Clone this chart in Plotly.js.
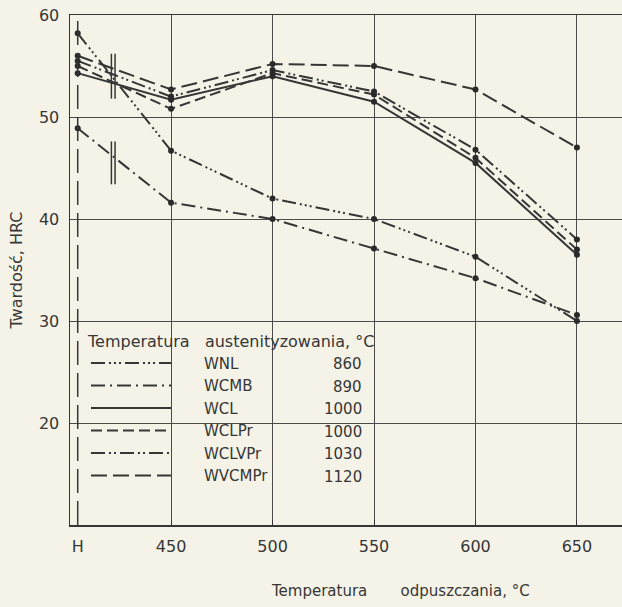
<!DOCTYPE html>
<html>
<head>
<meta charset="utf-8">
<script src="https://cdn.plot.ly/plotly-3.0.1.min.js"></script>
<style>
  html, body { margin: 0; padding: 0; background: #f5f3e8; }
  #chart { width: 622px; height: 607px; }
</style>
</head>
<body>
<div id="chart"></div>
<script>
// ---- data ----
const xVals = [404, 450, 500, 550, 600, 650];
const xTickText = ['H', '450', '500', '550', '600', '650'];
const gridX = [450, 500, 550, 600, 650];
const yTicks = [20, 30, 40, 50, 60];
const seriesNames = ['WNL', 'WCMB', 'WCL', 'WCLPr', 'WCLVPr', 'WVCMPr'];
const austTemps = ['860', '890', '1000', '1000', '1030', '1120'];
const wnl    = [58.2, 46.7, 42.0, 40.0, 36.3, 30.0];
const wcmb   = [48.9, 41.6, 40.0, 37.1, 34.2, 30.6];
const wcl    = [54.3, 51.7, 54.0, 51.5, 45.5, 36.5];
const wclpr  = [55.0, 50.8, 54.3, 52.2, 46.0, 37.0];
const wclvpr = [55.5, 52.0, 54.6, 52.5, 46.8, 38.0];
const wvcmpr = [56.0, 52.7, 55.2, 55.0, 52.7, 47.0];
const seriesValues = [wnl, wcmb, wcl, wclpr, wclvpr, wvcmpr];
// axis-break marks between H and 450
const breakX = [420.6, 422.4];
const breakLow = [51.8, 43.4];
const breakHigh = [56.2, 47.6];

// ---- styles ----
const ink = '#363636';
const bg = '#f5f3e8';
const dashes = [
  '14px,4px,2px,3px,2px,3px,2px,4px',
  '14px,5px,2px,5px',
  'solid',
  '11px,5px',
  '14px,4px,2px,3px,2px,4px',
  '16px,6px'
];
const FONT = 'DejaVu Sans, sans-serif';

const traces = [];
seriesNames.forEach((name, i) => {
  traces.push({
    x: xVals, y: seriesValues[i], name: name, type: 'scatter', mode: 'lines',
    line: { color: ink, width: 2, dash: dashes[i] },
    hoverinfo: 'x+y+name'
  });
});
seriesNames.forEach((name, i) => {
  traces.push({
    x: xVals, y: seriesValues[i], name: name, type: 'scatter', mode: 'markers',
    marker: { color: '#2a2a2a', size: 6 }, showlegend: false, hoverinfo: 'skip'
  });
});

const L = 70, T = 15, W = 552, H = 510;
const pxX = p => (p - L) / W;
const pxY = p => 1 - (p - T) / H;

const shapes = [
  // blank area behind the legend (hides grid there)
  { type: 'rect', xref: 'paper', yref: 'paper', x0: pxX(80), x1: pxX(406), y0: pxY(521), y1: pxY(328),
    fillcolor: bg, line: { width: 0 }, layer: 'between' },
  // dashed vertical line at H
  { type: 'line', xref: 'x', yref: 'paper', x0: xVals[0], x1: xVals[0], y0: 0, y1: 1,
    line: { color: ink, width: 1.5, dash: '24px,8px' }, layer: 'above' }
];
breakX.forEach(bx => {
  breakLow.forEach((lo, k) => {
    shapes.push({ type: 'line', xref: 'x', yref: 'y', x0: bx, x1: bx, y0: lo, y1: breakHigh[k],
      line: { color: ink, width: 1.5 }, layer: 'above' });
  });
});

const rowY0 = 364, rowGap = 22.5;
const annotations = austTemps.map((t, i) => ({
  xref: 'paper', yref: 'paper', x: pxX(364), y: pxY(rowY0 + i * rowGap),
  xanchor: 'right', yanchor: 'middle', text: t, showarrow: false,
  font: { family: FONT, size: 15, color: ink }
}));

const nb = '\u00a0';
const layout = {
  width: 622, height: 607,
  margin: { l: L, r: 0, t: T, b: 82 },
  paper_bgcolor: bg, plot_bgcolor: bg,
  font: { family: FONT, color: ink, size: 16 },
  showlegend: true,
  xaxis: {
    range: [400.2, 672.2], tickmode: 'array', tickvals: xVals, ticktext: xTickText,
    showgrid: false, zeroline: false, showline: true, linecolor: ink, linewidth: 1.5, mirror: true,
    ticks: '', ticklabelstandoff: 6, tickfont: { size: 16, color: ink },
    title: {
      text: '<span style="color:rgba(0,0,0,0)">.' + nb.repeat(22) + '</span>Temperatura' + nb.repeat(7) + 'odpuszczania, °C',
      font: { size: 15, color: ink }, standoff: 31
    }
  },
  xaxis2: {
    overlaying: 'x', anchor: 'y', range: [400.2, 672.2], tickmode: 'array', tickvals: gridX,
    showgrid: true, gridcolor: '#4a4a4a', gridwidth: 1, showticklabels: false,
    ticks: 'inside', ticklen: 5, tickcolor: ink, zeroline: false, side: 'bottom'
  },
  yaxis: {
    range: [10, 60], tickmode: 'array', tickvals: yTicks,
    showgrid: true, gridcolor: '#4a4a4a', gridwidth: 1, zeroline: false,
    showline: true, linecolor: ink, linewidth: 1.5, ticks: '', ticklabelstandoff: 6,
    tickfont: { size: 16, color: ink },
    title: { text: 'Twardość, HRC', font: { size: 16, color: ink }, standoff: 12 }
  },
  legend: {
    x: pxX(86), y: pxY(326), xanchor: 'left', yanchor: 'top',
    bgcolor: 'rgba(0,0,0,0)', borderwidth: 0,
    font: { size: 15, color: ink }, itemwidth: 108, traceorder: 'normal',
    title: { text: 'Temperatura' + nb + nb + nb + 'austenityzowania, °C', font: { size: 16, color: ink } }
  },
  shapes: shapes,
  annotations: annotations
};

// dummy invisible trace so the overlay axis is drawn
traces.push({ x: [gridX[0]], y: [yTicks[0]], xaxis: 'x2', yaxis: 'y', mode: 'markers',
  marker: { opacity: 0 }, showlegend: false, hoverinfo: 'skip' });

Plotly.newPlot('chart', traces, layout, { staticPlot: true }).then(() => {
  document.querySelectorAll('#chart .legend .legendlines path').forEach(p => {
    p.setAttribute('d', 'M5,0h80');
  });
});
</script>
</body>
</html>
